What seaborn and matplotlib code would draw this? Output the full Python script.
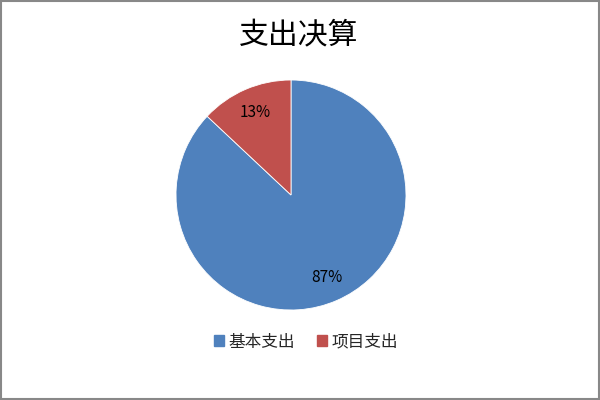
import matplotlib
matplotlib.use("Agg")
import matplotlib.pyplot as plt
import seaborn as sns
from matplotlib.patches import Rectangle

categories = ["基本支出", "项目支出"]
values = [87, 13]
colors = ["#4F81BD", "#C0504D"]
title = "支出决算"

sns.set_theme(style="white")
plt.rcParams['font.family'] = ['Noto Sans CJK SC', 'DejaVu Sans']

fig = plt.figure(figsize=(6, 4), dpi=100)
cx, cy, r = 291, 195, 115
ax = fig.add_axes([(cx - r) / 600, (400 - cy - r) / 400, 2 * r / 600, 2 * r / 400])
wedges, texts, autotexts = ax.pie(
    values, colors=colors, startangle=90, counterclock=False,
    autopct=lambda p: f"{p:.0f}%", pctdistance=0.78, radius=1,
    wedgeprops=dict(edgecolor="white", linewidth=0.6),
    textprops=dict(fontsize=11, color="black"))
ax.set_xlim(-1, 1)
ax.set_ylim(-1, 1)
ax.set_aspect("equal")
ax.axis("off")

fig.text(0.498, 1 - 36 / 400, title, ha="center", va="center", fontsize=21.5, color="black")

handles = [Rectangle((0, 0), 1, 1, color=c) for c in colors]
fig.legend(handles, categories, loc="center", bbox_to_anchor=(0.51, 1 - 342 / 400),
           ncol=2, frameon=False, fontsize=12, handlelength=0.6, handleheight=0.6,
           handletextpad=0.3, columnspacing=1.3)

fig.patches.append(Rectangle((0.002, 0.003), 0.996, 0.994, transform=fig.transFigure,
                             fill=False, edgecolor="#888888", linewidth=1.5))
fig.savefig("out.png", dpi=100, facecolor="white")
